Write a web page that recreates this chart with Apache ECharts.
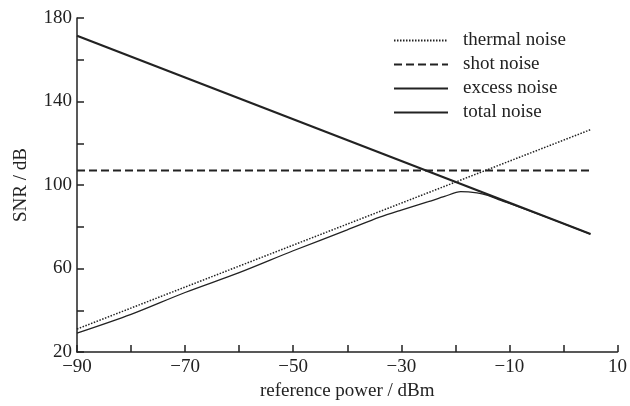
<!DOCTYPE html>
<html style="height: 100%">
<head>
    <meta charset="utf-8">
    <title>SNR</title>
    <script src="https://cdn.jsdelivr.net/npm/echarts@6/dist/echarts.min.js"></script>
</head>
<body style="height: 100%; margin: 0; background: #fff">
<div id="main" style="width: 630px; height: 406px"></div>

<script type="text/javascript">
    // values (x = reference power in dBm)
    var thermalX = [-90, 5];
    var thermalY = [31, 126.5];
    var shotX = [-90, 5];
    var shotY = [107, 107];
    var excessX = [-90, 5];
    var excessY = [171.5, 76.5];
    var totalX = [-90, -80, -70, -60, -50, -40, -34, -30, -25, -22, -19, -16, -14, -12, -10, -5, 0, 5];
    var totalY = [29, 38, 48.5, 58, 68.5, 78.5, 84.6, 88, 92, 94.5, 96.8, 96.2, 95, 93, 91.2, 86.4, 81.5, 76.5];

    function pairs(xs, ys) {
        var out = [];
        for (var i = 0; i < xs.length; i++) {
            out.push([xs[i], ys[i]]);
        }
        return out;
    }

    var ink = '#222';
    var font = 'Liberation Serif';
    var myChart = echarts.init(document.getElementById('main'));

    var option = {
        animation: false,
        grid: {left: 77, right: 12, top: 18, bottom: 52, containLabel: false},
        legend: {
            orient: 'vertical',
            left: 393,
            top: 31,
            padding: 0,
            itemWidth: 54,
            itemHeight: 14,
            itemGap: 5,
            itemStyle: {opacity: 0},
            textStyle: {color: ink, fontFamily: font, fontSize: 19, padding: [0, 0, 0, 10]},
            data: ['thermal noise', 'shot noise', 'excess noise', 'total noise']
        },
        xAxis: {
            type: 'value',
            min: -90,
            max: 10,
            interval: 20,
            name: 'reference power / dBm',
            nameLocation: 'middle',
            nameGap: 30,
            nameTextStyle: {color: ink, fontFamily: font, fontSize: 19},
            splitLine: {show: false},
            axisLine: {onZero: false, lineStyle: {color: ink, width: 1.5}},
            axisTick: {inside: true, length: 7, lineStyle: {color: ink, width: 1.5}},
            minorTick: {show: true, splitNumber: 2, length: 7, lineStyle: {color: ink, width: 1.5}},
            axisLabel: {
                color: ink, fontFamily: font, fontSize: 19, margin: 6,
                formatter: function (v) { return v < 0 ? '\u2212' + (-v) : '' + v; }
            }
        },
        yAxis: {
            type: 'value',
            min: 20,
            max: 180,
            interval: 40,
            name: 'SNR / dB',
            nameLocation: 'middle',
            nameGap: 46,
            nameTextStyle: {color: ink, fontFamily: font, fontSize: 19},
            splitLine: {show: false},
            axisLine: {show: true, onZero: false, lineStyle: {color: ink, width: 1.5}},
            axisTick: {show: true, inside: true, length: 7, lineStyle: {color: ink, width: 1.5}},
            minorTick: {show: true, splitNumber: 2, length: 7, lineStyle: {color: ink, width: 1.5}},
            axisLabel: {color: ink, fontFamily: font, fontSize: 19, margin: 5}
        },
        series: [
            {
                name: 'thermal noise',
                type: 'line',
                symbol: 'none',
                data: pairs(thermalX, thermalY),
                lineStyle: {color: ink, width: 1.5, type: [1.5, 1.5]},
                itemStyle: {color: ink}
            },
            {
                name: 'shot noise',
                type: 'line',
                symbol: 'none',
                data: pairs(shotX, shotY),
                lineStyle: {color: ink, width: 2, type: [8, 4]},
                itemStyle: {color: ink}
            },
            {
                name: 'excess noise',
                type: 'line',
                symbol: 'none',
                data: pairs(excessX, excessY),
                lineStyle: {color: ink, width: 2.2},
                itemStyle: {color: ink}
            },
            {
                name: 'total noise',
                type: 'line',
                symbol: 'none',
                smooth: 0.3,
                data: pairs(totalX, totalY),
                lineStyle: {color: ink, width: 1.3},
                itemStyle: {color: ink}
            }
        ]
    };
    myChart.setOption(option, true);
</script>
</body>
</html>
